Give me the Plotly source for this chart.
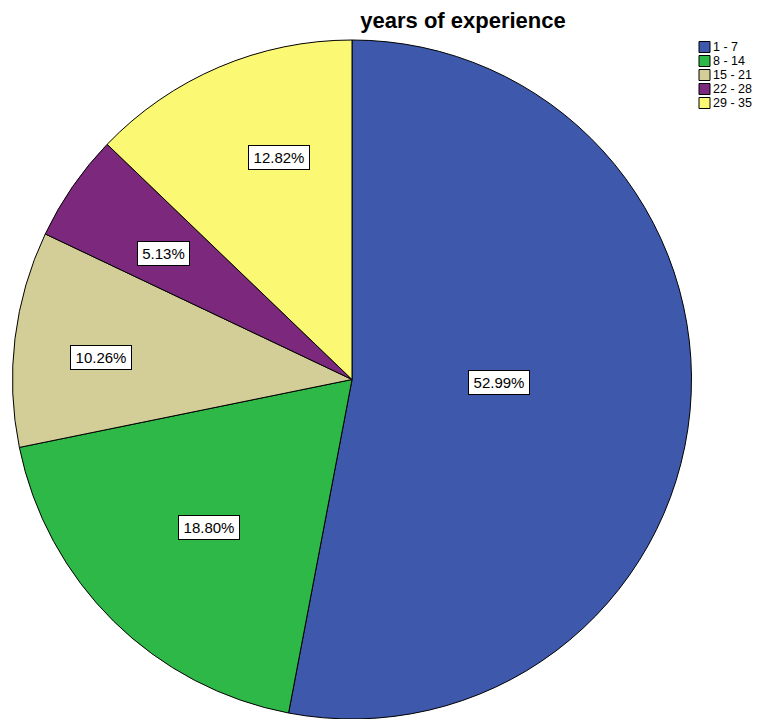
import math
import plotly.graph_objects as go

categories = ["1 - 7", "8 - 14", "15 - 21", "22 - 28", "29 - 35"]
counts = [62, 22, 12, 6, 15]
colors = ["#3E58AC", "#2EB848", "#D3CE97", "#7C287D", "#FBF873"]

# label placement - layout constants (fraction of radius, angle offset in deg)
label_r = [0.432, 0.605, 0.741, 0.669, 0.689]
label_da = [-4.6, -0.6, -1.9, -0.8, 4.8]

OFF = 8  # page body margin
W, H = 770 - OFF, 719 - OFF


def px(sx):
    return (sx - OFF) / W


def py(sy):
    return 1 - (sy - OFF) / H


CX, CY, R = 352, 380, 340  # target pie geometry (screen px)
dom_x = [px(CX - R), px(CX + R)]
dom_y = [0.0, py(CY - R)]

fig = go.Figure(go.Pie(
    labels=categories, values=counts, sort=False, direction="clockwise",
    rotation=0, marker=dict(colors=colors, line=dict(color="black", width=1)),
    textinfo="none", hoverinfo="label+percent", showlegend=False,
    domain=dict(x=dom_x, y=dom_y),
))

total = sum(counts)
cum = 0
for v, rf, da in zip(counts, label_r, label_da):
    mid = (cum + v / 2) / total * 2 * math.pi + math.radians(da)
    cum += v
    x = CX + rf * R * math.sin(mid)
    y = CY - rf * R * math.cos(mid)
    txt = f"{v / total * 100:.2f}%"
    fig.add_annotation(
        x=px(x), y=py(y), xref="paper", yref="paper",
        xanchor="center", yanchor="middle",
        text=txt, showarrow=False,
        font=dict(family="Arial, Liberation Sans", size=15, color="black"),
        bgcolor="white", bordercolor="black", borderwidth=1, borderpad=2,
        width=9 * len(txt) + 2, height=19,
    )

# legend (drawn from categories/colors)
for i, (name, col) in enumerate(zip(categories, colors)):
    yc = 47 + 14 * i
    fig.add_shape(type="rect", xref="paper", yref="paper",
                  x0=px(699), x1=px(710), y0=py(yc - 5.5), y1=py(yc + 5.5),
                  fillcolor=col, line=dict(color="black", width=1))
    fig.add_annotation(x=px(712), y=py(yc), xref="paper", yref="paper",
                       text=name, showarrow=False, xanchor="left", yanchor="middle",
                       height=12, borderpad=0,
                       font=dict(family="Arial, Liberation Sans", size=12.5, color="black"))

fig.update_layout(
    width=W, height=H, margin=dict(l=0, r=0, t=0, b=0),
    paper_bgcolor="white", plot_bgcolor="white",
    title=dict(text="<b>years of experience</b>", x=px(463), xanchor="center",
               y=py(20), yanchor="middle",
               font=dict(family="Arial, Liberation Sans", size=22, color="black")),
    showlegend=False,
)

fig.write_html("out.html")
